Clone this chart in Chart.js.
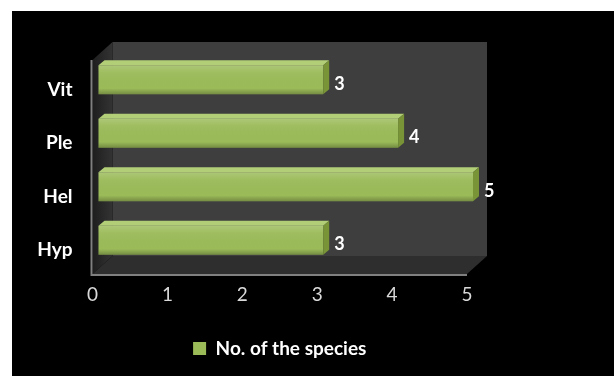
<!DOCTYPE html>
<html>
<head>
<meta charset="utf-8">
<title>No. of the species</title>
<script src="https://cdn.jsdelivr.net/npm/chart.js@4.4.0/dist/chart.umd.min.js"></script>
<style>
  html, body { margin: 0; padding: 0; background: #ffffff; }
  #wrap { position: relative; width: 614px; height: 376px; }
</style>
</head>
<body>
<div id="wrap"><canvas id="chartSpecies"></canvas></div>
<script>
  // data
  const CATEGORIES = ['Vit', 'Ple', 'Hel', 'Hyp'];
  const SPECIES    = [3, 4, 5, 3];
  const X_TICKS    = [0, 1, 2, 3, 4, 5];
  const SERIES     = 'No. of the species';

  const GREEN      = '#9bbb59';
  const GREEN_TOP  = '#b2cf78';
  const GREEN_SIDE = '#789437';
  const FONT       = "Lato, 'Open Sans', sans-serif";

  // depth of the chart box walls and of each bar
  const WALL  = { dx: 20, dy: -18 };
  const BAR   = { dx: 6,  dy: -5 };
  const SHIFT = { dx: 6,  dy: -7 };

  function poly(ctx, pts, fill) {
    ctx.beginPath();
    ctx.moveTo(pts[0][0], pts[0][1]);
    for (let i = 1; i < pts.length; i++) ctx.lineTo(pts[i][0], pts[i][1]);
    ctx.closePath();
    ctx.fillStyle = fill;
    ctx.fill();
  }

  const box3d = {
    id: 'box3d',
    beforeDraw(chart) {
      const { ctx, chartArea: a } = chart;
      ctx.save();
      ctx.fillStyle = '#000';
      ctx.fillRect(12, 11, chart.width - 12, chart.height - 11);

      // back wall
      poly(ctx, [[a.left + WALL.dx, a.top + WALL.dy], [a.right + WALL.dx, a.top + WALL.dy],
                 [a.right + WALL.dx, a.bottom + WALL.dy], [a.left + WALL.dx, a.bottom + WALL.dy]], '#3e3e3e');

      // left wall
      const lg = ctx.createLinearGradient(a.left, 0, a.left + WALL.dx, 0);
      lg.addColorStop(0, '#1e1e1e');
      lg.addColorStop(1, '#333333');
      poly(ctx, [[a.left, a.top], [a.left + WALL.dx, a.top + WALL.dy],
                 [a.left + WALL.dx, a.bottom + WALL.dy], [a.left, a.bottom]], lg);

      // floor
      poly(ctx, [[a.left, a.bottom], [a.right, a.bottom],
                 [a.right + WALL.dx, a.bottom + WALL.dy], [a.left + WALL.dx, a.bottom + WALL.dy]], '#2e2e2e');

      // front edges
      ctx.strokeStyle = '#808080';
      ctx.lineWidth = 2;
      ctx.beginPath();
      ctx.moveTo(a.left - 1, a.top);
      ctx.lineTo(a.left - 1, a.bottom + 1);
      ctx.lineTo(a.right, a.bottom + 1);
      ctx.stroke();
      ctx.restore();
    },
    beforeDatasetDraw(chart) {
      chart.ctx.save();
      chart.ctx.translate(SHIFT.dx, SHIFT.dy);
    },
    afterDatasetDraw(chart, args) {
      const ctx = chart.ctx;
      args.meta.data.forEach((bar, i) => {
        const h = bar.height / 2;
        const x0 = bar.base, x1 = bar.x, y0 = bar.y - h, y1 = bar.y + h;

        // top and end faces
        poly(ctx, [[x0, y0], [x1, y0], [x1 + BAR.dx, y0 + BAR.dy], [x0 + BAR.dx, y0 + BAR.dy]], GREEN_TOP);
        poly(ctx, [[x1, y0], [x1 + BAR.dx, y0 + BAR.dy], [x1 + BAR.dx, y1 + BAR.dy], [x1, y1]], GREEN_SIDE);

        // soft shading on the front face
        const g = ctx.createLinearGradient(0, y0, 0, y1);
        g.addColorStop(0, 'rgba(255,255,255,0.18)');
        g.addColorStop(0.25, 'rgba(255,255,255,0.04)');
        g.addColorStop(0.8, 'rgba(0,0,0,0)');
        g.addColorStop(1, 'rgba(0,0,0,0.25)');
        ctx.fillStyle = g;
        ctx.fillRect(x0, y0, x1 - x0, y1 - y0);

        // value label
        ctx.fillStyle = '#ffffff';
        ctx.font = 'bold 18px ' + FONT;
        ctx.textAlign = 'left';
        ctx.textBaseline = 'middle';
        ctx.fillText(String(SPECIES[i]), x1 + BAR.dx + 5, bar.y + 4);
      });
      ctx.restore();
    },
  };

  new Chart(document.getElementById('chartSpecies'), {
    type: 'bar',
    data: {
      labels: CATEGORIES,
      datasets: [{
        label: SERIES,
        data: SPECIES,
        backgroundColor: GREEN,
        borderWidth: 0,
        categoryPercentage: 1,
        barPercentage: 0.54,
        clip: false,
      }],
    },
    options: {
      indexAxis: 'y',
      responsive: true,
      maintainAspectRatio: false,
      animation: false,
      layout: { padding: { top: 60, right: 147, left: 0, bottom: 8 } },
      plugins: {
        tooltip: { enabled: false },
        legend: {
          position: 'bottom',
          fullSize: false,
          labels: {
            color: '#ffffff',
            font: { family: FONT, size: 19, weight: 'bold' },
            boxWidth: 13,
            boxHeight: 13,
            padding: 18,
          },
        },
      },
      scales: {
        x: {
          min: 0,
          max: 5,
          afterBuildTicks: (s) => { s.ticks = X_TICKS.map((v) => ({ value: v })); },
          afterFit: (s) => { s.height = 47; },
          grid: { display: false, drawTicks: false },
          border: { display: false },
          ticks: { color: '#d9d9d9', font: { family: FONT, size: 19 }, padding: 9 },
        },
        y: {
          afterFit: (s) => { s.width = 92.5; },
          grid: { display: false, drawTicks: false },
          border: { display: false },
          ticks: { color: '#ffffff', font: { family: FONT, size: 19, weight: 'bold' }, padding: 20, labelOffset: 3 },
        },
      },
    },
    plugins: [box3d],
  });
</script>
</body>
</html>
